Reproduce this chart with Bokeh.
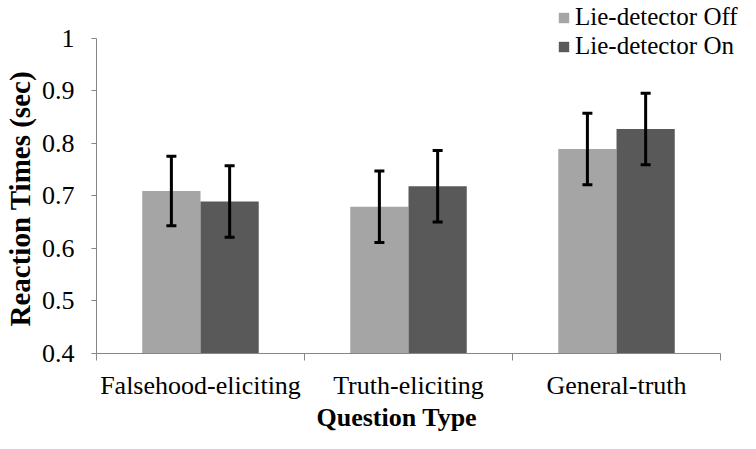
from bokeh.plotting import figure
from bokeh.models import (ColumnDataSource, Range1d, FixedTicker, Whisker, TeeHead,
                          Legend, LegendItem, PrintfTickFormatter, Title)
from bokeh.embed import file_html
from bokeh.resources import INLINE

# ---- data ----
categories = ["Falsehood-eliciting", "Truth-eliciting", "General-truth"]
series_names = ["Lie-detector Off", "Lie-detector On"]
off_vals = [0.709, 0.679, 0.789]
on_vals = [0.689, 0.718, 0.827]
off_err = [0.066, 0.068, 0.068]
on_err = [0.068, 0.068, 0.068]
y_ticks = [0.4, 0.5, 0.6, 0.7, 0.8, 0.9, 1.0]
x_title = "Question Type"
y_title = "Reaction Times  (sec)"

FONT = "Liberation Serif"
OFF_COLOR = "#a5a5a5"
ON_COLOR = "#595959"
AXIS_COLOR = "#868686"
BAR_W = 0.28

W, H = 740, 433
LEFT, AXIS_W, TOP_GAP, AXIS_H = 95, 625, 38, 319   # pixel layout of the axes box
BOTTOM = H - TOP_GAP - AXIS_H

n = len(categories)
centers = [i + 0.5 for i in range(n)]
off_x = [c - BAR_W / 2 for c in centers]
on_x = [c + BAR_W / 2 for c in centers]

# extend ranges so the frame reaches the canvas right/top edges (legend lives there)
x_end = n * (W - LEFT) / AXIS_W
y_span = y_ticks[-1] - y_ticks[0]
y_end = y_ticks[0] + y_span * (H - BOTTOM) / AXIS_H

p = figure(width=W, height=H, output_backend="svg", toolbar_location=None,
           x_range=Range1d(0, x_end), y_range=Range1d(y_ticks[0], y_end),
           min_border_left=LEFT, min_border_right=0, min_border_top=0,
           min_border_bottom=BOTTOM)
p.outline_line_color = None
p.xgrid.visible = False
p.ygrid.visible = False
p.background_fill_color = "white"
p.border_fill_color = "white"

src_off = ColumnDataSource(dict(x=off_x, top=off_vals,
                                upper=[v + e for v, e in zip(off_vals, off_err)],
                                lower=[v - e for v, e in zip(off_vals, off_err)]))
src_on = ColumnDataSource(dict(x=on_x, top=on_vals,
                               upper=[v + e for v, e in zip(on_vals, on_err)],
                               lower=[v - e for v, e in zip(on_vals, on_err)]))

r_off = p.vbar(x="x", top="top", bottom=y_ticks[0], width=BAR_W, source=src_off,
               fill_color=OFF_COLOR, line_color=None)
r_on = p.vbar(x="x", top="top", bottom=y_ticks[0], width=BAR_W, source=src_on,
              fill_color=ON_COLOR, line_color=None)

for src in (src_off, src_on):
    w = Whisker(base="x", upper="upper", lower="lower", source=src,
                line_width=3, line_color="black", level="overlay",
                upper_head=TeeHead(size=10, line_width=3, line_color="black"),
                lower_head=TeeHead(size=10, line_width=3, line_color="black"))
    p.add_layout(w)

xa = p.xaxis[0]
xa.bounds = (0, n)
xa.ticker = FixedTicker(ticks=centers, minor_ticks=list(range(n + 1)))
xa.major_label_overrides = {c: lab for c, lab in zip(centers, categories)}
xa.major_tick_line_color = None
xa.major_tick_out = 7
xa.minor_tick_in = 0
xa.minor_tick_out = 7
xa.minor_tick_line_color = AXIS_COLOR
xa.axis_line_color = AXIS_COLOR
xa.major_label_text_font = FONT
xa.major_label_text_font_size = "26px"
xa.major_label_text_color = "black"
xa.major_label_standoff = 10

ya = p.yaxis[0]
ya.bounds = (y_ticks[0], y_ticks[-1])
ya.ticker = FixedTicker(ticks=y_ticks, minor_ticks=[])
ya.formatter = PrintfTickFormatter(format="%g")
ya.major_tick_in = 0
ya.major_tick_out = 5
ya.major_tick_line_color = AXIS_COLOR
ya.axis_line_color = AXIS_COLOR
ya.major_label_text_font = FONT
ya.major_label_text_font_size = "26px"
ya.major_label_text_color = "black"
ya.major_label_standoff = 17

# axis titles as side-panel titles so they can be positioned along the axis box
yt = Title(text=y_title, align="left", offset=27, vertical_align="middle",
           text_font=FONT, text_font_size="29px", text_font_style="bold",
           text_color="black", standoff=4)
p.add_layout(yt, "left")
xt = Title(text=x_title, align="left", offset=220, vertical_align="top",
           text_font=FONT, text_font_size="26px", text_font_style="bold",
           text_color="black", standoff=0)
p.add_layout(xt, "below")

legend = Legend(items=[LegendItem(label=series_names[0], renderers=[r_off]),
                       LegendItem(label=series_names[1], renderers=[r_on])],
                location=(461, AXIS_H + TOP_GAP - 64), orientation="vertical",
                glyph_width=13, glyph_height=13, label_standoff=5,
                label_text_font=FONT, label_text_font_size="25px",
                label_text_color="black", padding=0, margin=0, spacing=1,
                border_line_color=None, background_fill_alpha=0)
p.add_layout(legend, "center")

open("out.html", "w").write(file_html(p, INLINE))
